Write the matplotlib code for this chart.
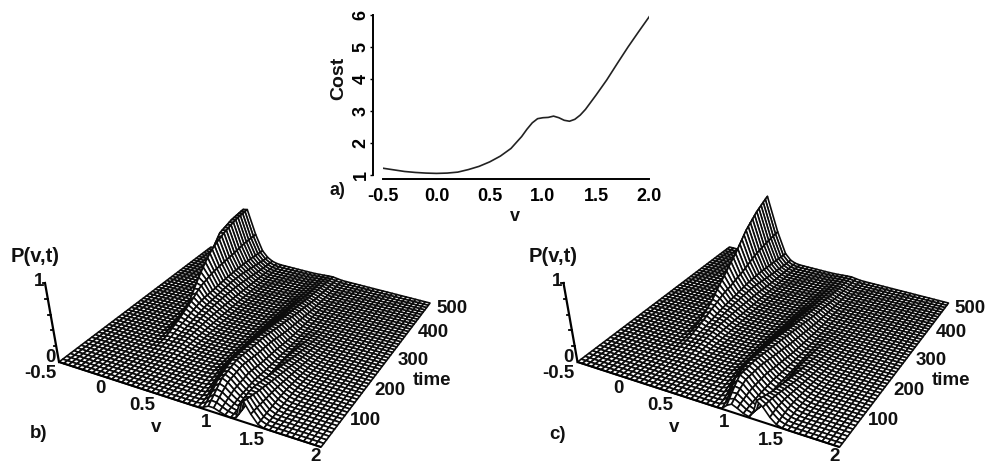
import numpy as np
import matplotlib
matplotlib.use("Agg")
import matplotlib.pyplot as plt
from matplotlib.collections import PolyCollection

plt.rcParams['font.family'] = ['Liberation Sans', 'DejaVu Sans']
plt.rcParams['font.weight'] = 'bold'

# ---- panel a: cost curve
cost_v = [-0.5, -0.4, -0.3, -0.2, -0.1, 0.0, 0.1, 0.2, 0.3, 0.4, 0.5, 0.6, 0.7, 0.8, 0.85, 0.9, 0.95, 1.0, 1.05, 1.1, 1.15,
          1.2, 1.25, 1.3, 1.35, 1.4, 1.5, 1.6, 1.7, 1.8, 1.9, 2.0]
cost_y = [1.21, 1.16, 1.11, 1.08, 1.06, 1.05, 1.06, 1.09, 1.17, 1.27, 1.41, 1.59, 1.83, 2.20, 2.43, 2.63, 2.76, 2.79, 2.80, 2.84, 2.79,
          2.71, 2.68, 2.74, 2.87, 3.05, 3.50, 3.97, 4.49, 5.00, 5.48, 5.95]
cost_xticks = [-0.5, 0.0, 0.5, 1.0, 1.5, 2.0]
cost_yticks = [1, 2, 3, 4, 5, 6]

# ---- panels b, c: ridges of P(v,t), read per time knot from the picture
time_knots = [0, 50, 100, 150, 200, 250, 300, 350, 400, 450, 500]

# each ridge: position, height, width towards lower v, width towards higher v
b_main = dict(p=[.16, .16, .15, .12, .10, .08, .05, .03, .02, .02, .02],
              h=[0, 0, .0, .03, .10, .20, .38, .58, .72, .78, .80],
              l=[.06] * 11,
              r=[.06, .06, .06, .06, .07, .08, .08, .08, .08, .08, .08])
b_shoulder = dict(p=[.3, .3, .3, .27, .25, .23, .21, .19, .17, .15, .13],
                  h=[0, 0, .01, .04, .07, .10, .12, .14, .14, .12, .10],
                  l=[.12] * 11, r=[.10] * 11)
b_mid = dict(p=[1.02, 1.0, .99, .98, .98, .97, .97, .96, .95, .95, .95],
             h=[.06, .20, .24, .22, .20, .16, .12, .09, .06, .04, .02],
             l=[.07, .10, .14, .14, .14, .14, .14, .14, .14, .14, .14],
             r=[.10, .12, .13, .12, .11, .10, .09, .08, .07, .06, .06])
b_high = dict(p=[1.33, 1.31, 1.30, 1.28, 1.26, 1.24, 1.2, 1.2, 1.2, 1.2, 1.2],
              h=[.27, .22, .16, .12, .07, .03, 0, 0, 0, 0, 0],
              l=[.05] * 11, r=[.08, .11, .14, .15, .15, .14, .1, .1, .1, .1, .1])

c_main = dict(p=[.18, .18, .17, .15, .13, .11, .09, .08, .08, .08, .08],
              h=[0, 0, .0, .02, .08, .18, .34, .52, .72, .88, 1.0],
              l=[.05] * 11, r=[.05, .05, .05, .05, .06, .07, .07, .07, .07, .07, .07])
c_shoulder = dict(p=[.3, .3, .3, .29, .27, .25, .23, .21, .19, .18, .17],
                  h=[0, 0, .01, .04, .07, .09, .11, .13, .12, .10, .08],
                  l=[.12] * 11, r=[.09] * 11)
c_mid = dict(p=[1.04, 1.0, .99, .98, .97, .97, .96, .96, .95, .95, .95],
             h=[.10, .24, .24, .21, .18, .14, .11, .08, .05, .03, .02],
             l=[.06, .10, .14, .14, .14, .14, .14, .14, .14, .14, .14],
             r=[.10, .12, .13, .12, .11, .10, .09, .08, .07, .06, .06])
c_high = dict(p=[1.30, 1.31, 1.30, 1.28, 1.26, 1.24, 1.2, 1.2, 1.2, 1.2, 1.2],
              h=[.24, .17, .11, .07, .04, .02, 0, 0, 0, 0, 0],
              l=[.05] * 11, r=[.10, .13, .15, .16, .16, .14, .1, .1, .1, .1, .1])

v_mesh = np.linspace(-0.5, 2.0, 51)
t_mesh = np.linspace(0, 500, 51)

v_tick_labels = ['-0.5', '0', '0.5', '1', '1.5', '2']
v_tick_xy = [(40, 373), (100, 388), (142, 405), (206, 422), (252, 440), (316, 456)]
t_tick_labels = ['100', '200', '300', '400', '500']
t_tick_xy = [(365, 420), (390, 390), (413, 360), (433, 332), (452, 308)]
z_tick_labels = ['0', '1']
z_tick_xy = [(50, 357), (39, 281)]

W, H = 989, 465
fig = plt.figure(figsize=(W / 100, H / 100), dpi=100)


def surface(ridges):
    V, T = np.meshgrid(v_mesh, t_mesh)
    P = np.zeros_like(V)
    for rg in ridges:
        p = np.interp(T, time_knots, rg['p'])
        h = np.interp(T, time_knots, rg['h'])
        l = np.interp(T, time_knots, rg['l'])
        r = np.interp(T, time_knots, rg['r'])
        s = np.where(V < p, l, r)
        P += h * np.exp(-((V - p) / s) ** 2)
    return V, T, P


def project(v, t, z, dx):
    """perspective view of the (v, t, P) box in figure pixels"""
    u = (np.asarray(v, float) + 0.5) / 2.5
    w = np.asarray(t, float) / 500
    den = -0.1048 * u + 0.2485 * w + 1
    x = (228.4 * u + 204.4 * w + 59 - 14 * np.asarray(z, float)) / den + dx
    y = (38.2 * u - 53.6 * w + 362 - 79 * np.asarray(z, float)) / den
    return x, y


ov = fig.add_axes([0, 0, 1, 1])
ov.set_xlim(0, W)
ov.set_ylim(H, 0)
ov.axis('off')


def draw_panel(ridges, dx, letter, letter_xy):
    V, T, P = surface(ridges)
    X, Y = project(V, T, P, dx)
    polys = []
    for j in range(len(t_mesh) - 2, -1, -1):
        for i in range(len(v_mesh) - 1):
            polys.append([(X[j, i], Y[j, i]), (X[j, i + 1], Y[j, i + 1]),
                          (X[j + 1, i + 1], Y[j + 1, i + 1]), (X[j + 1, i], Y[j + 1, i])])
    ov.add_collection(PolyCollection(polys, facecolors='white', edgecolors='#0c0c0c', linewidths=1.2))
    # front (v) axis and vertical P axis
    xa, ya = project([-0.5, 2.0], [0, 0], [0, 0], dx)
    ov.plot(xa, ya, color='black', lw=1.5, solid_capstyle='butt')
    zz = np.array([0, .2, .4, .6, .8, 1.0])
    xz, yz = project(0 * zz - 0.5, 0 * zz, zz, dx)
    ov.plot(xz, yz, color='black', lw=1.6)
    for xi, yi in zip(xz[1:], yz[1:]):
        ov.plot([xi - 2.5, xi], [yi, yi], color='black', lw=1.3)
    kw = dict(ha='center', va='center', fontsize=13.5, color='#111111')
    for lab, (x, y) in zip(v_tick_labels, v_tick_xy):
        ov.text(x + dx, y, lab, **kw)
    for lab, (x, y) in zip(t_tick_labels, t_tick_xy):
        ov.text(x + dx, y, lab, **kw)
    for lab, (x, y) in zip(z_tick_labels, z_tick_xy):
        ov.text(x + dx, y, lab, **kw)
    ov.text(35 + dx, 256, 'P(v,t)', **dict(kw, fontsize=14.5))
    ov.text(156 + dx, 427, 'v', **kw)
    ov.text(432 + dx, 380, 'time', **kw)
    ov.text(letter_xy[0], letter_xy[1], letter, **kw)


draw_panel([b_main, b_shoulder, b_mid, b_high], 0, 'b)', (39, 433))
draw_panel([c_main, c_shoulder, c_mid, c_high], 518.5, 'c)', (558, 434))

# ---- panel a
ax = fig.add_axes([383.3 / W, 1 - 175 / H, 266 / W, 160 / H])
ax.patch.set_alpha(0)
ax.plot(cost_v, cost_y, color='#222222', lw=1.2)
ax.set_xlim(-0.5, 2.0)
ax.set_ylim(1, 6)
ax.set_xticks(cost_xticks, ['-0.5', '0.0', '0.5', '1.0', '1.5', '2.0'])
ax.set_yticks(cost_yticks, [str(k) for k in cost_yticks])
for s in ('top', 'right'):
    ax.spines[s].set_visible(False)
ax.spines['bottom'].set_position(('outward', 2.9))
ax.spines['left'].set_position(('outward', 7.2))
ax.spines['bottom'].set_linewidth(1.4)
ax.spines['left'].set_linewidth(1.4)
ax.tick_params(axis='x', length=0, labelsize=13, pad=6.5)
ax.tick_params(axis='y', length=2, width=1, labelsize=13, pad=0.5)
for lab in ax.get_yticklabels():
    lab.set_rotation(90)
    lab.set_va('center')
ov.text(339, 78, 'Cost', rotation=90, ha='center', va='center', fontsize=14, color='#111111')
ov.text(337, 190, 'a)', ha='center', va='center', fontsize=13, color='#111111')
ov.text(515, 216, 'v', ha='center', va='center', fontsize=13, color='#111111')

fig.savefig('out.png', dpi=100)
